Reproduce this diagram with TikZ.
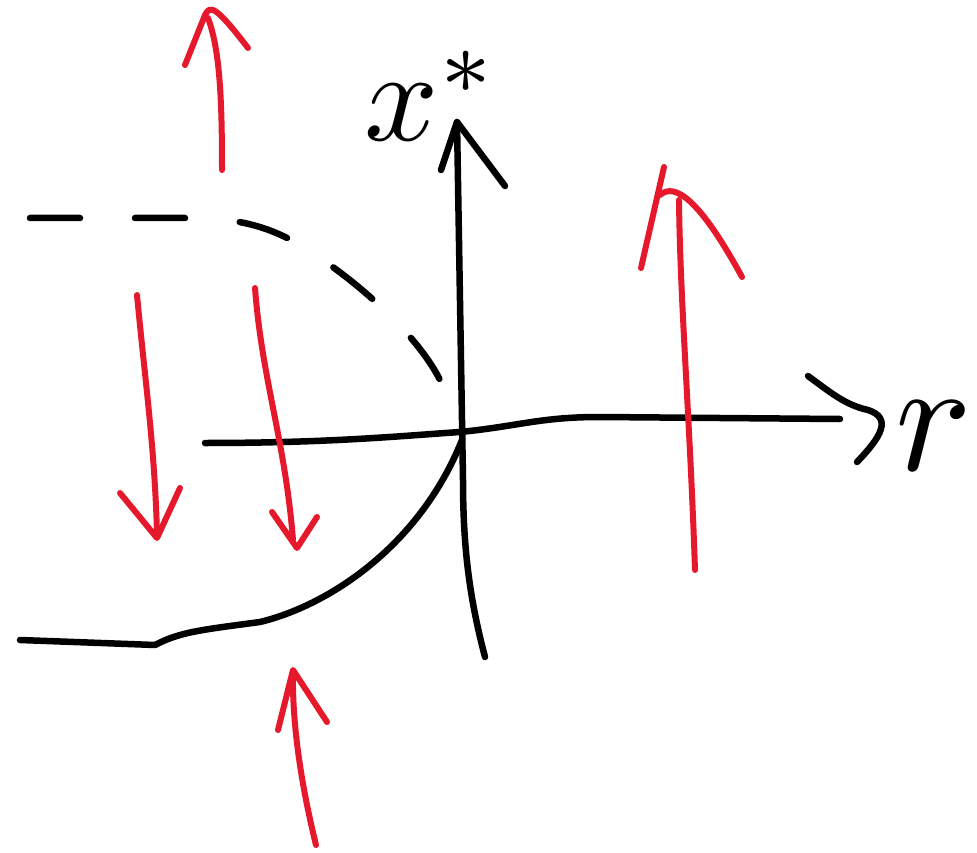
\documentclass[tikz,border=0pt]{standalone}
\definecolor{sketchred}{RGB}{230,24,44}
\begin{document}
\begin{tikzpicture}[x=1pt, y=-1pt,
  pen/.style={line width=6.5pt, line cap=round, line join=round},
  flow/.style={pen, sketchred, line width=6pt}]
\useasboundingbox (0,0) rectangle (977,853);

% axes
\draw[pen] (205,443) .. controls (330,443) and (400,436) .. (460,432) .. controls (520,426) and (540,417) .. (600,417) -- (840,419);
\draw[pen] (808,376) .. controls (830,392) and (845,405) .. (868,410) .. controls (892,418) and (882,436) .. (857,462);
\draw[pen] (485,657) .. controls (470,600) and (463,550) .. (463,480) -- (457,122);
\draw[pen] (441,170) -- (457,122) -- (505,186);
\node[scale=13, inner sep=0pt] (xs) at (432,96) {$x^*$};
\node[scale=16, inner sep=0pt] (r) at (934,436) {$r$};

% branches
\draw[pen, dash pattern=on 50pt off 55pt] (30,218) -- (200,218) .. controls (250,220) and (280,230) .. (320,258) .. controls (370,292) and (420,340) .. (440,380) .. controls (450,400) and (455,415) .. (462,428);
\draw[pen] (20,640) -- (155,645) .. controls (180,632) and (200,630) .. (260,622) .. controls (330,605) and (420,545) .. (462,440);

% flow
\draw[flow] (222,170) .. controls (222,100) and (220,50) .. (208,18);
\draw[flow] (185,65) -- (205,15) .. controls (210,5) and (215,5) .. (248,48);
\draw[flow] (137,295) .. controls (145,380) and (155,450) .. (157,535);
\draw[flow] (120,493) -- (157,538) -- (180,488);
\draw[flow] (255,288) .. controls (262,380) and (285,440) .. (293,540);
\draw[flow] (272,512) -- (297,548) -- (317,517);
\draw[flow] (316,845) .. controls (300,780) and (292,720) .. (293,672);
\draw[flow] (278,730) -- (293,670) -- (327,722);
\draw[flow] (695,570) .. controls (690,420) and (680,300) .. (679,200);
\draw[flow] (641,268) -- (664,167);
\draw[flow] (660,195) .. controls (675,182) and (700,200) .. (742,277);
\end{tikzpicture}
\end{document}
